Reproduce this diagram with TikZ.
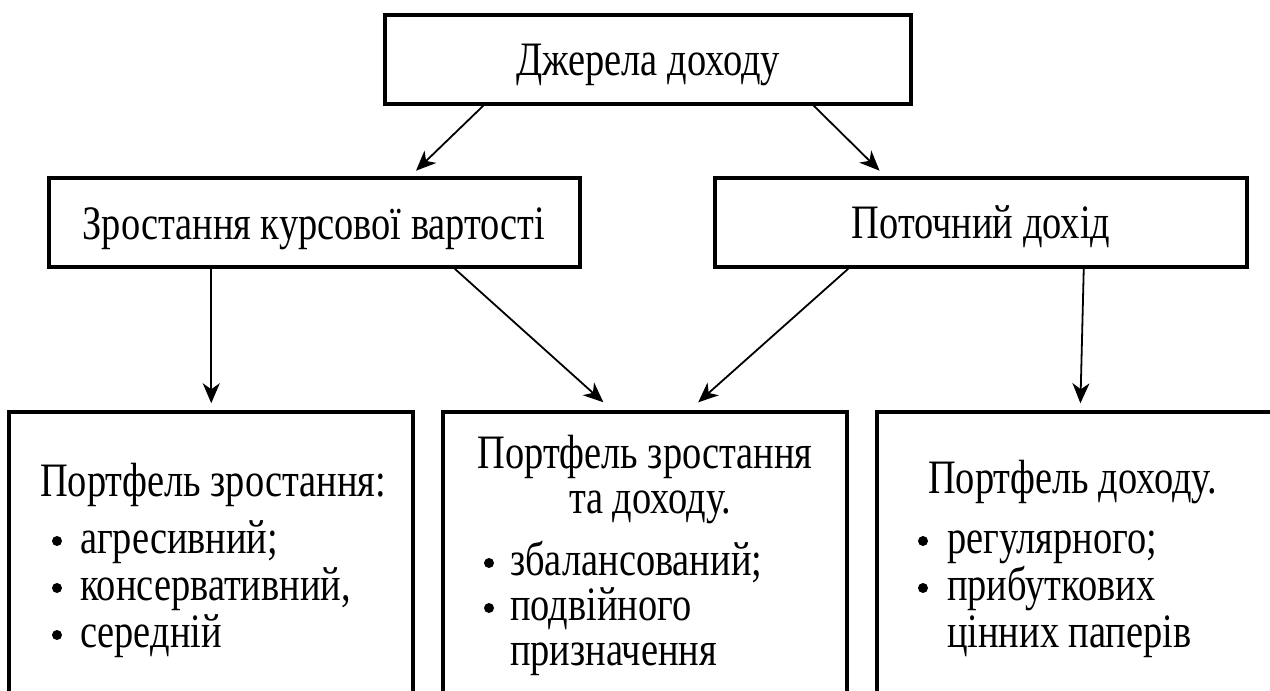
\documentclass[tikz,border=0pt]{standalone}
\usepackage{fontspec}
\setmainfont{Liberation Serif}[FakeStretch=0.8]
\usetikzlibrary{arrows.meta,calc}
\begin{document}
\begin{tikzpicture}[x=1pt,y=-1pt,
  box/.style={draw, line width=3.5pt, rectangle, inner sep=0pt},
  arr/.style={line width=1.8pt, -{Stealth[length=20pt,width=17pt,inset=6pt]}},
  txt/.style={font=\fontsize{48}{48}\selectfont, inner sep=0pt},
  dot/.style={circle, fill, inner sep=0pt, minimum size=10pt}]
\useasboundingbox (0,0) rectangle (1270,691);
\clip (0,0) rectangle (1270,691);
% boxes
\node[box, minimum width=526pt, minimum height=89pt] (src) at (648,59.5) {};
\node[box, minimum width=531pt, minimum height=89pt] (grow) at (314.5,222.5) {};
\node[box, minimum width=532pt, minimum height=89pt] (inc) at (981,222.5) {};
\node[box, minimum width=404pt, minimum height=388pt] (pg) at (211,606) {};
\node[box, minimum width=404pt, minimum height=388pt] (pgi) at (645,606) {};
\node[box, minimum width=404pt, minimum height=388pt] (pi) at (1079,606) {};
% texts
\node[txt, anchor=base] (tsrc) at (648,75) {Джерела доходу};
\node[txt, anchor=base] (tgrow) at (314,239) {Зростання курсової вартості};
\node[txt, anchor=base] (tinc) at (981,238) {Поточний дохід};
% left bottom
\node[txt, anchor=base west] (l0) at (40,496) {Портфель зростання:};
\node[dot] (lb1) at (57,541) {};
\node[txt, anchor=base west] (l1) at (80,553) {агресивний;};
\node[dot] (lb2) at (57,588) {};
\node[txt, anchor=base west] (l2) at (80,600) {консервативний,};
\node[dot] (lb3) at (57,635) {};
\node[txt, anchor=base west] (l3) at (80,647) {середній};
% middle bottom
\node[txt, anchor=base] (m0) at (645,468) {Портфель зростання};
\node[txt, anchor=base] (m1) at (650,513) {та доходу.};
\node[dot] (mb1) at (489,563) {};
\node[txt, anchor=base west] (m2) at (510,575) {збалансований;};
\node[dot] (mb2) at (489,608) {};
\node[txt, anchor=base west] (m3) at (510,620) {подвійного};
\node[txt, anchor=base west] (m4) at (510,665) {призначення};
% right bottom
\node[txt, anchor=base west] (r0) at (928,493) {Портфель доходу.};
\node[dot] (rb1) at (923,541) {};
\node[txt, anchor=base west] (r1) at (947,553) {регулярного;};
\node[dot] (rb2) at (923,588) {};
\node[txt, anchor=base west] (r2) at (947,600) {прибуткових};
\node[txt, anchor=base west] (r3) at (947,647) {цінних паперів};
% connectors
\draw[arr, shorten >=8pt] ($(src.south west)+(100,0)$) -- ($(grow.north west)+(363,0)$);
\draw[arr, shorten >=8pt] ($(src.south east)+(-99,0)$) -- ($(inc.north west)+(172,0)$);
\draw[arr, shorten >=7pt] ($(grow.south west)+(164,0)$) -- ($(pg.north west)+(204,0)$);
\draw[arr, shorten >=12pt] ($(grow.south east)+(-127,0)$) -- ($(pgi.north west)+(171,0)$);
\draw[arr, shorten >=12pt] ($(inc.south west)+(135,0)$) -- ($(pgi.north west)+(248,0)$);
\draw[arr, shorten >=7pt] ($(inc.south east)+(-165,0)$) -- ($(pi.north west)+(205,0)$);
\end{tikzpicture}
\end{document}
